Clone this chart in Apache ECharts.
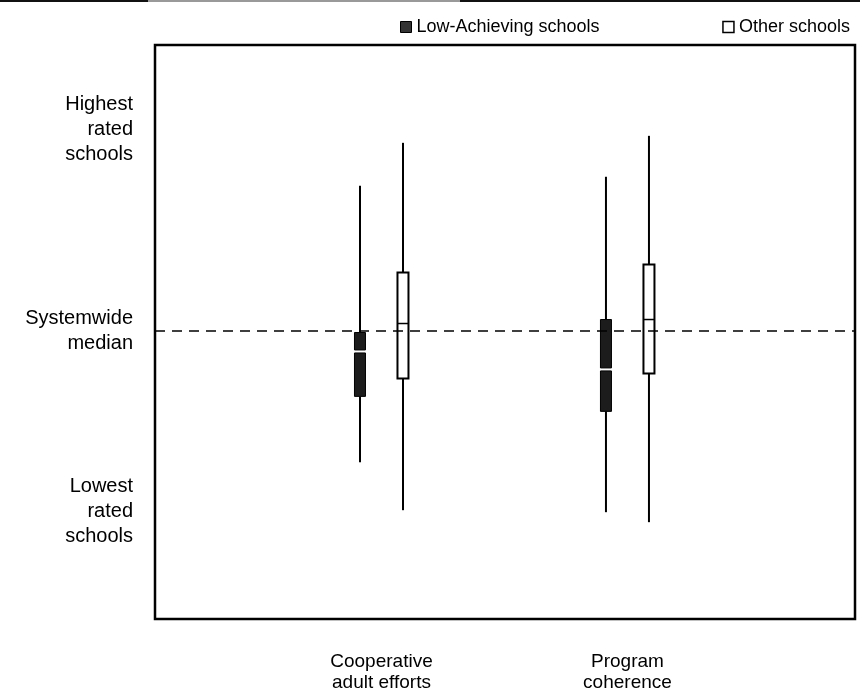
<!DOCTYPE html>
<html>
<head>
<meta charset="utf-8">
<script src="https://cdn.jsdelivr.net/npm/echarts@6/dist/echarts.min.js"></script>
<style>
html,body{margin:0;padding:0;background:#fff;}
#c{width:860px;height:693px;}
</style>
</head>
<body>
<div id="c"></div>
<script>
// Categories (x positions 1 and 2 on the axis)
var categories = ['Cooperative\nadult efforts', 'Program\ncoherence'];
var categoryPositions = [1, 2];
// Series values: [lowWhisker, Q1, median, Q3, highWhisker] in rating units (0 = systemwide median)
var lowAchieving = [
  [-1.32, -0.66, -0.21, -0.02, 1.45],
  [-1.82, -0.81, -0.39, 0.11, 1.54]
];
var otherSchools = [
  [-1.80, -0.48, 0.07, 0.58, 1.88],
  [-1.92, -0.43, 0.11, 0.66, 1.95]
];
// Y tick labels
var yTickValues = [2.01, 0, -1.81];
var yTickLabels = ['Highest\nrated\nschools', 'Systemwide\nmedian', 'Lowest\nrated\nschools'];
var medianLine = 0;
var seriesNames = ['Low-Achieving schools', 'Other schools'];

var FONT = "'Liberation Sans', Arial, sans-serif";

function toData(arr) {
  return arr.map(function (v, i) { return [categoryPositions[i]].concat(v); });
}

function makeRender(offset, filled) {
  return function (params, api) {
    var x = api.value(0);
    var lo = api.coord([x, api.value(1)]);
    var q1 = api.coord([x, api.value(2)]);
    var med = api.coord([x, api.value(3)]);
    var q3 = api.coord([x, api.value(4)]);
    var hi = api.coord([x, api.value(5)]);
    var cx = lo[0] + offset;
    var w = 11;
    var children = [];
    children.push({type: 'line', shape: {x1: cx, y1: hi[1], x2: cx, y2: q3[1]}, style: {stroke: '#000', lineWidth: 2}});
    children.push({type: 'line', shape: {x1: cx, y1: q1[1], x2: cx, y2: lo[1]}, style: {stroke: '#000', lineWidth: 2}});
    if (filled) {
      var gap = 1.5;
      children.push({type: 'rect', shape: {x: cx - w / 2, y: q3[1], width: w, height: med[1] - gap - q3[1]}, style: {fill: '#1c1c1c', stroke: '#000', lineWidth: 1}});
      children.push({type: 'rect', shape: {x: cx - w / 2, y: med[1] + gap, width: w, height: q1[1] - med[1] - gap}, style: {fill: '#1c1c1c', stroke: '#000', lineWidth: 1}});
    } else {
      children.push({type: 'rect', shape: {x: cx - w / 2, y: q3[1], width: w, height: q1[1] - q3[1]}, style: {fill: '#fff', stroke: '#000', lineWidth: 2}});
      children.push({type: 'line', shape: {x1: cx - w / 2, y1: med[1], x2: cx + w / 2, y2: med[1]}, style: {stroke: '#000', lineWidth: 1.5}});
    }
    return {type: 'group', children: children};
  };
}

var chart = echarts.init(document.getElementById('c'), null, {renderer: 'canvas'});
chart.setOption({
  backgroundColor: '#fff',
  animation: false,
  textStyle: {fontFamily: FONT, color: '#000'},
  graphic: [
    {type: 'rect', shape: {x: 0, y: 0, width: 148, height: 2}, style: {fill: '#111'}},
    {type: 'rect', shape: {x: 148, y: 0, width: 312, height: 2}, style: {fill: '#999'}},
    {type: 'rect', shape: {x: 460, y: 0, width: 400, height: 2}, style: {fill: '#111'}}
  ],
  legend: [
    {left: 395, top: 13, itemWidth: 11, itemHeight: 11, itemGap: 6,
     textStyle: {fontFamily: FONT, fontSize: 18, color: '#000'},
     data: [{name: seriesNames[0], icon: 'rect', itemStyle: {color: '#333', borderColor: '#000', borderWidth: 1}}]},
    {right: 5, top: 13, itemWidth: 11, itemHeight: 11, itemGap: 6,
     textStyle: {fontFamily: FONT, fontSize: 18, color: '#000'},
     data: [{name: seriesNames[1], icon: 'rect', itemStyle: {color: '#fff', borderColor: '#000', borderWidth: 1.5}}]}
  ],
  grid: {left: 155, right: 5, top: 45, bottom: 73, show: true, borderColor: '#000', borderWidth: 2.5, backgroundColor: 'transparent'},
  xAxis: {
    type: 'value', min: 0.0793, max: 2.925,
    axisLine: {show: false}, axisTick: {show: false}, splitLine: {show: false},
    axisLabel: {
      customValues: categoryPositions, margin: 32, fontSize: 19, lineHeight: 21, fontFamily: FONT, color: '#000',
      formatter: function (v) { var i = categoryPositions.indexOf(v); return i >= 0 ? categories[i] : ''; }
    }
  },
  yAxis: {
    type: 'value', min: -2.89, max: 2.86,
    axisLine: {show: false}, axisTick: {show: false}, splitLine: {show: false},
    axisLabel: {
      customValues: yTickValues, margin: 22, fontSize: 20, lineHeight: 25, fontFamily: FONT, color: '#000', align: 'right',
      formatter: function (v) {
        for (var i = 0; i < yTickValues.length; i++) { if (Math.abs(yTickValues[i] - v) < 1e-6) return yTickLabels[i]; }
        return '';
      }
    }
  },
  series: [
    {
      name: seriesNames[0], type: 'custom', itemStyle: {color: '#333'},
      renderItem: makeRender(-21.5, true),
      encode: {x: 0, y: [1, 2, 3, 4, 5]},
      data: toData(lowAchieving),
      markLine: {
        silent: true, symbol: 'none', label: {show: false},
        lineStyle: {color: '#000', width: 1.5, type: [10, 7]},
        data: [{yAxis: medianLine}]
      }
    },
    {
      name: seriesNames[1], type: 'custom', itemStyle: {color: '#fff'},
      renderItem: makeRender(21.5, false),
      encode: {x: 0, y: [1, 2, 3, 4, 5]},
      data: toData(otherSchools)
    }
  ]
});
</script>
</body>
</html>
